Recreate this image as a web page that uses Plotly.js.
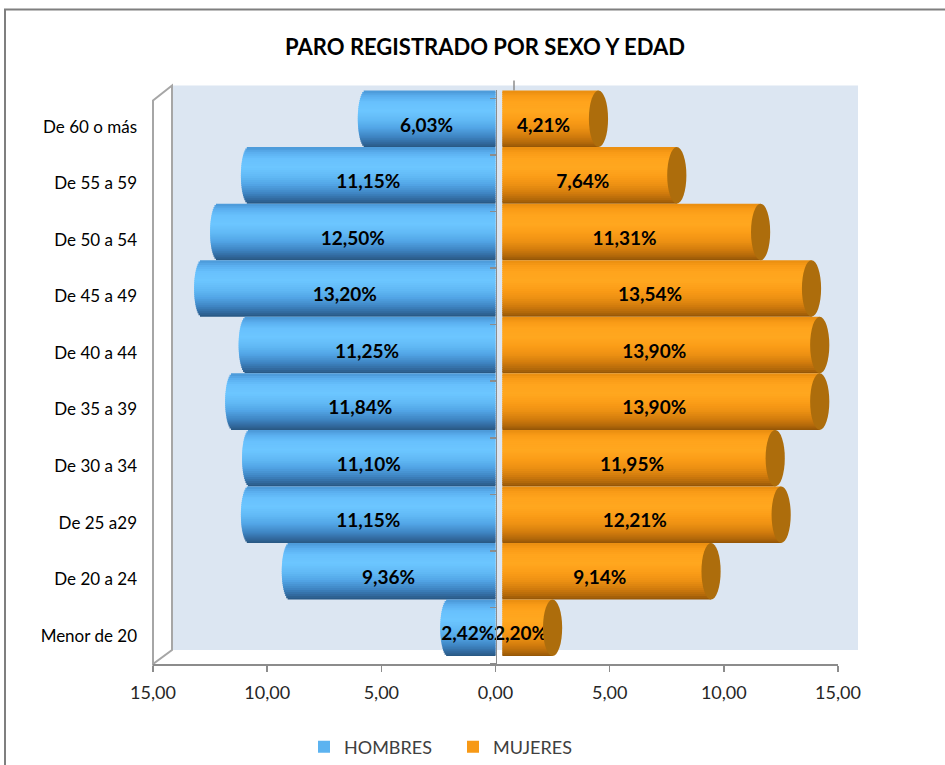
<!DOCTYPE html>
<html>
<head>
<meta charset="utf-8">
<script src="https://cdn.plot.ly/plotly-3.0.1.min.js"></script>
<style>html,body{margin:0;padding:0;background:#fff;}#chart{width:945px;height:765px;}</style>
</head>
<body>
<div id="chart"></div>
<script>
// ---- data (bottom to top) ----
const categories = ['Menor de 20','De 20 a 24','De 25 a29','De 30 a 34','De 35 a 39','De 40 a 44','De 45 a 49','De 50 a 54','De 55 a 59','De 60 o más'];
const hombres = [2.42, 9.36, 11.15, 11.10, 11.84, 11.25, 13.20, 12.50, 11.15, 6.03];
const mujeres = [2.20, 9.14, 12.21, 11.95, 13.90, 13.90, 13.54, 11.31, 7.64, 4.21];
const xTickVals = [-15, -10, -5, 0, 5, 10, 15];
const xTickText = ['15,00', '10,00', '5,00', '0,00', '5,00', '10,00', '15,00'];
const seriesNames = ['HOMBRES', 'MUJERES'];

// ---- style ----
const FONT = 'Lato, "Open Sans", sans-serif';
const blueStops = [[-0.5,'#27557f'],[-0.42,'#31689c'],[-0.3,'#3f86c4'],[-0.15,'#52a5e6'],[0,'#62baf6'],[0.15,'#6cc6ff'],[0.3,'#68c1fd'],[0.42,'#5aaeee'],[0.5,'#4a97d6']];
const orangeStops = [[-0.5,'#8f5206'],[-0.42,'#b0670a'],[-0.3,'#d27c0d'],[-0.15,'#ee9113'],[0,'#fc9e18'],[0.15,'#ffa71f'],[0.3,'#ffa41d'],[0.42,'#f89a16'],[0.5,'#e88d10']];
const capColor = '#ad6d0c';
const N = 28;            // shading bands per bar
const OVL = 0.022;       // overlap between bands (category units)
const SHIFT = 0.14;      // 3D vertical shift of bars
const MEN_ROUND = 0.35;  // rounded far end of men's cylinders
const W_BASE = 0.3;      // perspective start of women's cylinders
const CAP_HALF = 0.42;

function hex2rgb(h){return [parseInt(h.slice(1,3),16),parseInt(h.slice(3,5),16),parseInt(h.slice(5,7),16)];}
function colorAt(stops,t){
  for(let i=0;i<stops.length-1;i++){
    const [t0,c0]=stops[i],[t1,c1]=stops[i+1];
    if(t>=t0&&t<=t1){
      const f=(t-t0)/(t1-t0),a=hex2rgb(c0),b=hex2rgb(c1);
      return 'rgb('+a.map((v,k)=>Math.round(v+(b[k]-v)*f)).join(',')+')';
    }
  }
  return stops[stops.length-1][1];
}

const traces = [];
let lb=0,bd=9;
for(let k=0;k<N;k++){const tc=-0.5+(k+0.5)/N;const d=Math.abs(tc+0.05);if(d<bd){bd=d;lb=k;}}

// men bands
for(let k=0;k<N;k++){
  const tc=-0.5+(k+0.5)/N;
  const s=Math.sqrt(Math.max(0,1-4*tc*tc));
  const lo=Math.max(-0.5,-0.5+k/N-OVL/2), hi=Math.min(0.5,-0.5+(k+1)/N+OVL/2);
  traces.push({
    type:'bar', orientation:'h', y:categories,
    x:hombres.map(v=>-(v-MEN_ROUND*(1-s))), base:0,
    width:hi-lo, offset:SHIFT+lo,
    marker:{color:colorAt(blueStops,tc),line:{width:0}},
    name:seriesNames[0], legendgroup:'h', showlegend:k===lb,
    hoverinfo:'skip'
  });
}
// women bands
for(let k=0;k<N;k++){
  const tc=-0.5+(k+0.5)/N;
  const lo=Math.max(-0.5,-0.5+k/N-OVL/2), hi=Math.min(0.5,-0.5+(k+1)/N+OVL/2);
  traces.push({
    type:'bar', orientation:'h', y:categories,
    x:mujeres, base:W_BASE,
    width:hi-lo, offset:SHIFT+lo,
    marker:{color:colorAt(orangeStops,tc),line:{width:0}},
    name:seriesNames[1], legendgroup:'m', showlegend:k===lb,
    hoverinfo:'skip'
  });
}
// value labels
const fmt = v => v.toFixed(2).replace('.',',')+'%';
traces.push({
  type:'scatter', mode:'text', xaxis:'x', yaxis:'y2',
  x:hombres.map(v=>-v/2).concat(mujeres.map(v=>v/2)),
  y:categories.map((c,i)=>i).concat(categories.map((c,i)=>i)),
  text:hombres.map(fmt).concat(mujeres.map(fmt)),
  textposition:'middle center',
  textfont:{family:FONT,size:19,color:'#000',weight:'bold'},
  cliponaxis:false, showlegend:false, hoverinfo:'skip'
});

// ---- frame geometry (paper coords) ----
const L=153, R=838, T=89.5, B=664;
const px = x => (x-L)/(R-L);
const py = y => (B-y)/(B-T);

const shapes = [
  {type:'rect',xref:'paper',yref:'paper',x0:px(5),x1:px(960),y0:py(775),y1:py(9),line:{color:'#7f7f7f',width:2},fillcolor:'rgba(0,0,0,0)',layer:'below'},
  {type:'rect',xref:'paper',yref:'paper',x0:px(172),x1:px(858),y0:py(650),y1:py(85),line:{width:0},fillcolor:'#dce6f2',layer:'below'},
  {type:'path',xref:'paper',yref:'paper',path:`M${px(153)},${py(664)} L${px(172)},${py(650)} L${px(858)},${py(650)} L${px(838)},${py(664)} Z`,line:{width:0},fillcolor:'#ffffff',layer:'below'},
  {type:'path',xref:'paper',yref:'paper',path:`M${px(153)},${py(100)} L${px(172)},${py(85)} L${px(172)},${py(650)} L${px(153)},${py(664)} Z`,line:{color:'#a6a6a6',width:2},fillcolor:'#ffffff',layer:'below'},
  {type:'line',xref:'paper',yref:'paper',x0:px(514),x1:px(514),y0:py(90),y1:py(80),line:{color:'#8c8c8c',width:1.5},layer:'below'}
];
mujeres.forEach((v,i)=>{
  shapes.push({type:'circle',xref:'x',yref:'y',
    x0:v+W_BASE-CAP_HALF,x1:v+W_BASE+CAP_HALF,y0:i+SHIFT-0.5,y1:i+SHIFT+0.5,
    fillcolor:capColor,line:{width:0},layer:'above'});
});

const boundaries = categories.map((c,i)=>i-0.5).concat([categories.length-0.5]);

const layout = {
  width:945, height:765,
  margin:{l:L, r:945-R, t:T, b:765-B, pad:0, autoexpand:false},
  paper_bgcolor:'#ffffff', plot_bgcolor:'rgba(0,0,0,0)',
  barmode:'overlay',
  showlegend:true,
  title:{text:'PARO REGISTRADO POR SEXO Y EDAD', font:{family:FONT,size:22,color:'#000',weight:'bold'},
    xref:'container', x:485/945, yref:'container', y:1-47/765, xanchor:'center', yanchor:'middle'},
  xaxis:{range:[-15,15], tickmode:'array', tickvals:xTickVals, ticktext:xTickText,
    showgrid:false, zeroline:false, showline:true, linecolor:'#8c8c8c', linewidth:1.5,
    ticks:'outside', ticklen:6, tickcolor:'#8c8c8c', tickwidth:1.5,
    tickfont:{family:FONT,size:18,color:'#262626'}, ticklabelstandoff:6, fixedrange:true},
  yaxis:{type:'category', categoryorder:'array', categoryarray:categories, range:[-0.5,9.65],
    showgrid:false, zeroline:false, showline:false, ticks:'', ticklabelstandoff:15,
    tickfont:{family:FONT,size:17,color:'#000'}, fixedrange:true},
  yaxis2:{overlaying:'y', anchor:'free', position:0.5, range:[-0.5,9.65], type:'linear',
    showgrid:false, zeroline:false, showline:true, linecolor:'#8c8c8c', linewidth:1.5,
    ticks:'outside', tickmode:'array', tickvals:boundaries, ticklen:6, tickcolor:'#8c8c8c', tickwidth:1.5,
    showticklabels:false, layer:'above traces', fixedrange:true},
  legend:{orientation:'h', xref:'container', yref:'container', x:304/945, y:1-747/765, xanchor:'left', yanchor:'middle',
    font:{family:FONT,size:18,color:'#404040'}, bgcolor:'rgba(0,0,0,0)', entrywidth:104, entrywidthmode:'pixels'},
  shapes:shapes
};

Plotly.newPlot('chart', traces, layout, {displayModeBar:false, staticPlot:true});
</script>
</body>
</html>
